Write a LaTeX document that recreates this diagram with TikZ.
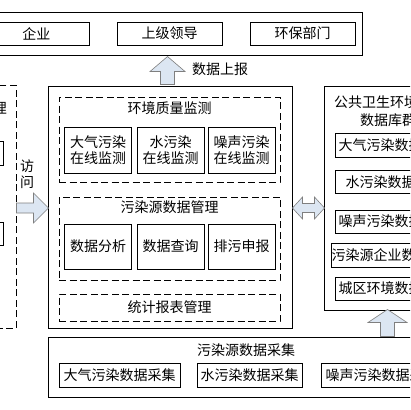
\documentclass[tikz,border=0pt]{standalone}
\usepackage{fontspec}
\setmainfont{Noto Sans CJK SC}
\usetikzlibrary{calc}
\definecolor{arrfill}{HTML}{DCE6F2}
\definecolor{arrline}{HTML}{7F7F7F}

\begin{document}
\begin{tikzpicture}[x=1pt, y=-1pt, font=\fontsize{14}{16}\selectfont,
		outerbox/.style={draw, line width=1pt, inner sep=0pt},
		innerbox/.style={draw, line width=.8pt, inner sep=0pt, align=center},
		dashgroup/.style={draw, line width=1pt, dash pattern=on 7pt off 3.5pt, inner sep=0pt},
		blockarrow/.style={draw=arrline, fill=arrfill, line width=.6pt, line join=miter},
		plaintext/.style={inner sep=0pt, align=center}]
		\useasboundingbox (0,0) rectangle (410,410);
		\clip (0,0) rectangle (410,410);
		% users
		\node[outerbox, minimum width=385pt, minimum height=43pt] (users) at (169.5,33.5) {};
		\node[innerbox, minimum width=105pt, minimum height=23pt] (qiye) at (36.5,33.5) {企业};
		\node[innerbox, minimum width=105pt, minimum height=23pt] (lingdao) at (169.5,33.5) {上级领导};
		\node[innerbox, minimum width=105pt, minimum height=23pt] (huanbao) at (302.5,33.5) {环保部门};
		% access side
		\node[dashgroup, minimum width=136pt, minimum height=243pt] (access) at (-52,206.5) {};
		\node[plaintext, anchor=east] (accname) at (7,108) {理};
		\node[innerbox, minimum width=102pt, minimum height=24pt] (acc1) at (-48,153.5) {};
		\node[innerbox, minimum width=102pt, minimum height=23pt] (acc2) at (-48,233.5) {};
		\node[plaintext] (visit) at (27,174) {访\\问};
		% platform
		\node[outerbox, minimum width=244pt, minimum height=242pt] (platform) at (170,207) {};
		\node[dashgroup, minimum width=221pt, minimum height=85pt] (quality) at (169.5,139.5) {};
		\node[plaintext] (qualname) at (169.5,108.5) {环境质量监测};
		\node[innerbox, minimum width=67pt, minimum height=46pt] (air) at (98,150) {大气污染\\在线监测};
		\node[innerbox, minimum width=67pt, minimum height=46pt] (water) at (170.5,150) {水污染\\在线监测};
		\node[innerbox, minimum width=67pt, minimum height=46pt] (noise) at (241.5,150) {噪声污染\\在线监测};
		\node[dashgroup, minimum width=221pt, minimum height=83pt] (source) at (169.5,238.5) {};
		\node[plaintext] (srcname) at (169.5,207) {污染源数据管理};
		\node[innerbox, minimum width=67pt, minimum height=45pt] (analyse) at (98,246.5) {数据分析};
		\node[innerbox, minimum width=67pt, minimum height=45pt] (query) at (170.5,246.5) {数据查询};
		\node[innerbox, minimum width=67pt, minimum height=45pt] (declare) at (241.5,246.5) {排污申报};
		\node[dashgroup, minimum width=221pt, minimum height=27pt] (report) at (169.5,307.5) {统计报表管理};
		% database
		\node[outerbox, minimum width=127pt, minimum height=224pt] (db) at (387.5,198) {};
		\node[plaintext, anchor=west] (dbname) at (334,102) {公共卫生环境};
		\node[plaintext] (dbname2) at (388,120) {数据库群};
		\node[innerbox, minimum width=105pt, minimum height=24pt] (dbair) at (387.5,145) {大气污染数据库};
		\node[innerbox, minimum width=105pt, minimum height=23pt] (dbwater) at (387.5,182) {水污染数据库};
		\node[innerbox, minimum width=105pt, minimum height=23pt] (dbnoise) at (387.5,221.5) {噪声污染数据库};
		\node[innerbox, minimum width=105pt, minimum height=24pt] (dbfirm) at (387.5,255) {污染源企业数据库};
		\node[innerbox, minimum width=105pt, minimum height=23pt] (dbcity) at (387.5,288.5) {城区环境数据库};
		% collection
		\node[outerbox, minimum width=396pt, minimum height=60pt] (collect) at (246,367) {};
		\node[plaintext] (colname) at (246,350) {污染源数据采集};
		\node[innerbox, minimum width=121pt, minimum height=24pt] (colair) at (119.5,375) {大气污染数据采集};
		\node[innerbox, minimum width=105pt, minimum height=24pt] (colwater) at (249.5,375) {水污染数据采集};
		\node[innerbox, minimum width=121pt, minimum height=24pt] (colnoise) at (381.5,375) {噪声污染数据采集};
		% arrows
		\coordinate (upA) at ($(platform.north)+(-2.5,-1)$);
		\coordinate (upB) at (db.south |- collect.north);
		\coordinate (twoway) at ($(platform.east)+(0,1)$);
		\coordinate (inA) at ($(access.east |- platform.west)+(0,1)$);
		\draw[blockarrow] (upA) ++(-7,0) -- ++(0,-13) -- ++(-10.5,0) -- ++(17.5,-15) -- ++(17.5,15) -- ++(-10.5,0) -- ++(0,13) -- cycle;
		\draw[blockarrow] (upB) ++(-7,0) -- ++(0,-14) -- ++(-12.5,0) -- ++(19.5,-13) -- ++(19.5,13) -- ++(-12.5,0) -- ++(0,14) -- cycle;
		\draw[blockarrow] (twoway) -- ++(10,-11) -- ++(0,6.5) -- ++(12,0) -- ++(0,-6.5) -- ++(10,11) -- ++(-10,11) -- ++(0,-6.5) -- ++(-12,0) -- ++(0,6.5) -- cycle;
		\draw[blockarrow] (inA) ++(0,-5) -- ++(17,0) -- ++(0,-10) -- ++(15,15) -- ++(-15,15) -- ++(0,-10) -- ++(-17,0) -- cycle;
		\node[plaintext, anchor=west] (report up) at (192,69) {数据上报};
	\end{tikzpicture}
\end{document}
